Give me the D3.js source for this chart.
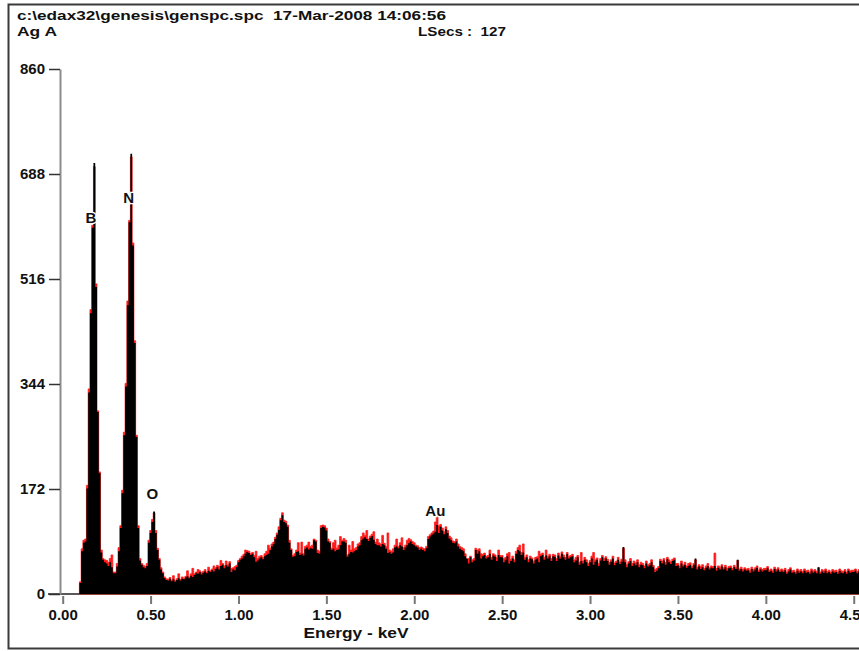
<!DOCTYPE html>
<html>
<head>
<meta charset="utf-8">
<script src="https://cdn.jsdelivr.net/npm/d3@7/dist/d3.min.js"></script>
<style>
  body { margin: 0; background: #fff; }
  svg { display: block; }
  text { font-family: "Liberation Sans", Arial, sans-serif; font-weight: bold; fill: #111; white-space: pre; }
</style>
</head>
<body>
<svg id="chart"></svg>
<script>
// header texts
var header_file = "c:\\edax32\\genesis\\genspc.spc  17-Mar-2008 14:06:56";
var header_label = "Ag A";
var header_lsecs = "LSecs :  127";

// axes
var y_ticks = [0, 172, 344, 516, 688, 860];
var x_ticks = [0, 0.5, 1, 1.5, 2, 2.5, 3, 3.5, 4, 4.5];
var x_title = "Energy - keV";

// peak labels
var peak_names = ["B", "N", "O", "Au"];
var peak_energy = [0.16, 0.375, 0.51, 2.12];
var peak_counts = [608, 640, 155, 128];

// spectrum, 10 eV channels, first channel centred on 0.10 keV
var channel_start = 0.10;
var channel_width = 0.01;

var black_counts = [
  18, 70, 84, 86, 173, 330, 460, 600, 706, 503,     // 0.10
  298, 198, 68, 56, 52, 50, 46, 52, 44, 34,         // 0.20
  34, 45, 70, 108, 165, 260, 340, 473, 609, 721,    // 0.30
  571, 411, 257, 108, 55, 48, 44, 42, 46, 84,       // 0.40
  100, 118, 135, 100, 72, 56, 40, 34, 26, 23,       // 0.50
  22, 25, 21, 24, 20, 23, 26, 22, 25, 24,           // 0.60
  27, 29, 26, 30, 28, 31, 34, 33, 36, 32,           // 0.70
  35, 37, 34, 38, 36, 39, 37, 41, 44, 40,           // 0.80
  46, 48, 42, 47, 45, 50, 36, 40, 39, 44,           // 0.90
  52, 56, 58, 62, 66, 69, 67, 64, 66, 60,           // 1.00
  53, 55, 58, 60, 57, 62, 64, 66, 72, 78,           // 1.10
  82, 90, 97, 105, 121, 129, 118, 116, 110, 84,     // 1.20
  72, 61, 62, 69, 70, 64, 66, 63, 74, 76,           // 1.30
  73, 75, 74, 88, 86, 67, 66, 108, 110, 109,        // 1.40
  104, 86, 84, 72, 74, 70, 72, 73, 80, 86,          // 1.50
  86, 84, 61, 66, 69, 68, 70, 72, 78, 80,           // 1.60
  88, 91, 93, 90, 87, 92, 95, 89, 82, 80,           // 1.70
  80, 78, 82, 80, 74, 67, 69, 66, 68, 76,           // 1.80
  78, 75, 80, 78, 72, 76, 80, 83, 86, 82,           // 1.90
  80, 78, 76, 72, 74, 72, 70, 75, 90, 94,           // 2.00
  97, 99, 102, 113, 100, 110, 104, 98, 106, 100,    // 2.10
  91, 88, 84, 83, 86, 78, 74, 72, 70, 62,           // 2.20
  58, 50, 60, 52, 55, 72, 66, 70, 58, 62,           // 2.30
  64, 58, 60, 66, 56, 63, 61, 54, 64, 60,           // 2.40
  60, 52, 56, 62, 50, 54, 58, 52, 66, 72,           // 2.50
  70, 64, 68, 56, 60, 52, 58, 57, 50, 56,           // 2.60
  58, 52, 62, 64, 56, 63, 58, 62, 54, 62,           // 2.70
  61, 54, 63, 58, 66, 60, 56, 65, 58, 60,           // 2.80
  62, 52, 55, 60, 48, 54, 50, 56, 52, 46,           // 2.90
  52, 58, 48, 53, 56, 46, 55, 60, 54, 58,           // 3.00
  54, 48, 53, 58, 47, 51, 56, 49, 53, 77,           // 3.10
  52, 44, 50, 54, 46, 50, 47, 52, 44, 48,           // 3.20
  47, 42, 50, 45, 47, 52, 44, 36, 38, 42,           // 3.30
  54, 50, 55, 48, 57, 52, 49, 54, 56, 46,           // 3.40
  47, 42, 50, 45, 48, 43, 46, 48, 42, 47,           // 3.50
  58, 40, 45, 41, 44, 39, 43, 46, 40, 43,           // 3.60
  42, 46, 38, 43, 40, 45, 40, 44, 38, 42,           // 3.70
  43, 39, 44, 41, 56, 38, 41, 37, 40, 38,           // 3.80
  39, 35, 41, 37, 40, 43, 36, 40, 37, 39,           // 3.90
  39, 42, 36, 38, 35, 41, 37, 40, 36, 38,           // 4.00
  36, 39, 33, 37, 40, 35, 36, 33, 38, 35,           // 4.10
  37, 34, 38, 35, 36, 33, 38, 35, 37, 34,           // 4.20
  44, 33, 37, 35, 38, 34, 36, 33, 37, 35,           // 4.30
  36, 33, 38, 35, 34, 37, 33, 38, 35, 36,           // 4.40
  36, 38, 34, 37, 35, 38, 34, 36, 38, 35            // 4.50
];

var red_counts = [
  20, 74, 88, 90, 178, 336, 466, 604, 700, 508,     // 0.10
  300, 200, 72, 58, 56, 55, 52, 58, 64, 36,         // 0.20
  36, 50, 76, 112, 170, 265, 345, 480, 612, 716,    // 0.30
  575, 415, 260, 112, 58, 50, 47, 45, 50, 88,       // 0.40
  104, 122, 133, 104, 75, 58, 43, 36, 28, 25,       // 0.50
  24, 27, 23, 30, 22, 25, 33, 24, 28, 26,           // 0.60
  29, 38, 28, 33, 42, 33, 36, 40, 38, 35,           // 0.70
  37, 40, 36, 44, 38, 41, 46, 43, 47, 45,           // 0.80
  55, 50, 46, 54, 48, 53, 42, 43, 45, 47,           // 0.90
  55, 58, 62, 65, 72, 71, 70, 66, 68, 63,           // 1.00
  70, 58, 62, 63, 60, 66, 70, 80, 75, 82,           // 1.10
  85, 93, 100, 110, 124, 133, 121, 119, 113, 88,    // 1.20
  74, 63, 66, 72, 84, 67, 85, 66, 78, 80,           // 1.30
  85, 78, 80, 90, 88, 72, 70, 112, 113, 112,        // 1.40
  108, 90, 86, 75, 84, 88, 75, 80, 94, 88,          // 1.50
  91, 88, 64, 80, 72, 86, 74, 76, 82, 84,           // 1.60
  94, 100, 96, 104, 90, 95, 98, 102, 85, 90,        // 1.70
  84, 82, 96, 83, 78, 100, 72, 70, 74, 80,          // 1.80
  90, 78, 84, 92, 76, 80, 88, 91, 89, 86,           // 1.90
  84, 80, 79, 76, 77, 75, 74, 78, 94, 97,           // 2.00
  100, 103, 118, 129, 112, 114, 108, 102, 110, 104, // 2.10
  95, 92, 87, 86, 90, 82, 78, 76, 74, 66,           // 2.20
  54, 58, 62, 56, 58, 75, 72, 74, 66, 65,           // 2.30
  67, 62, 63, 72, 60, 66, 64, 60, 72, 63,           // 2.40
  63, 58, 60, 66, 68, 57, 62, 56, 70, 76,           // 2.50
  80, 68, 82, 60, 64, 56, 62, 59, 54, 60,           // 2.60
  61, 70, 65, 67, 60, 72, 62, 65, 58, 65,           // 2.70
  64, 58, 67, 62, 69, 64, 60, 68, 62, 63,           // 2.80
  65, 56, 60, 63, 52, 68, 54, 60, 56, 50,           // 2.90
  55, 62, 68, 56, 59, 50, 58, 63, 58, 61,           // 3.00
  57, 52, 56, 62, 51, 54, 60, 53, 57, 75,           // 3.10
  56, 48, 53, 58, 50, 54, 51, 56, 48, 52,           // 3.20
  50, 46, 54, 48, 50, 56, 47, 40, 42, 45,           // 3.30
  57, 54, 58, 52, 60, 56, 53, 57, 59, 50,           // 3.40
  50, 46, 54, 48, 52, 46, 50, 51, 45, 50,           // 3.50
  56, 44, 48, 45, 48, 42, 46, 50, 43, 46,           // 3.60
  45, 67, 42, 46, 44, 48, 43, 47, 42, 45,           // 3.70
  46, 42, 47, 44, 55, 41, 44, 40, 43, 41,           // 3.80
  42, 39, 44, 40, 43, 46, 39, 43, 40, 42,           // 3.90
  42, 45, 39, 41, 38, 44, 40, 43, 39, 41,           // 4.00
  39, 42, 36, 40, 43, 38, 39, 36, 41, 38,           // 4.10
  40, 37, 41, 38, 39, 36, 41, 38, 40, 37,           // 4.20
  43, 36, 40, 38, 41, 37, 39, 36, 40, 38,           // 4.30
  39, 36, 41, 38, 37, 40, 36, 41, 38, 39,           // 4.40
  39, 41, 37, 40, 38, 41, 37, 39, 41, 38            // 4.50
];

var w = 859;
var h = 651;

var svg = d3.select("#chart")
  .attr("width", w)
  .attr("height", h);

var x = d3.scaleLinear().domain([0, 4.53]).range([62.7, 859]);
var y = d3.scaleLinear().domain([0, 860]).range([594, 69]);

// outer frame (right side is cut off in the original)
svg.append("path")
  .attr("d", "M" + (w + 5) + ",4.5H8.5V648.5H" + (w + 5))
  .attr("fill", "none")
  .attr("stroke", "#3a3a3a")
  .attr("stroke-width", 2);

// header
svg.append("text").attr("x", 17).attr("y", 20).attr("font-size", 13)
  .attr("textLength", 429).attr("lengthAdjust", "spacingAndGlyphs")
  .text(header_file);
svg.append("text").attr("x", 17).attr("y", 36).attr("font-size", 13)
  .attr("textLength", 40).attr("lengthAdjust", "spacingAndGlyphs")
  .text(header_label);
svg.append("text").attr("x", 418).attr("y", 36).attr("font-size", 13)
  .attr("textLength", 88).attr("lengthAdjust", "spacingAndGlyphs")
  .text(header_lsecs);

// baseline
svg.append("line")
  .attr("x1", 48).attr("x2", w)
  .attr("y1", y(0)).attr("y2", y(0))
  .attr("stroke", "#222").attr("stroke-width", 1.5);

// turn channel list into step points (left edge of each channel + closing edge)
function steps(counts) {
  var pts = counts.map(function(c, i) {
    return { e: channel_start + i * channel_width - channel_width / 2, c: c };
  });
  pts.push({ e: channel_start + counts.length * channel_width - channel_width / 2, c: counts[counts.length - 1] });
  return pts;
}

var area = d3.area()
  .curve(d3.curveStepAfter)
  .x(function(d) { return x(d.e); })
  .y0(y(0))
  .y1(function(d) { return y(d.c); });

var plot = svg.append("g");

plot.append("path")
  .datum(steps(red_counts))
  .attr("d", area)
  .attr("fill", "#ff1a1a")
  .attr("stroke", "#ff1a1a")
  .attr("stroke-width", 0.8);

plot.append("path")
  .datum(steps(black_counts))
  .attr("d", area)
  .attr("fill", "#000");

// y axis
var yAxis = svg.append("g")
  .attr("transform", "translate(60,0)")
  .call(d3.axisLeft(y).tickValues(y_ticks).tickSize(11).tickSizeOuter(0).tickPadding(4));
yAxis.select(".domain").attr("stroke", "#8c8c8c").attr("stroke-width", 2);
yAxis.selectAll(".tick line").attr("stroke", "#333").attr("stroke-width", 1.5);
yAxis.selectAll(".tick text")
  .attr("font-size", 15).attr("fill", "#111");
yAxis.attr("font-family", null);

// x axis
var xAxis = svg.append("g")
  .attr("transform", "translate(0,596)")
  .call(d3.axisBottom(x).tickValues(x_ticks).tickFormat(d3.format(".2f")).tickSize(8).tickSizeOuter(0).tickPadding(5));
xAxis.select(".domain").remove();
xAxis.selectAll(".tick line").attr("stroke", "#777").attr("stroke-width", 2);
xAxis.selectAll(".tick text")
  .attr("font-size", 15).attr("fill", "#111");
xAxis.attr("font-family", null);

svg.append("text")
  .attr("x", 356).attr("y", 638)
  .attr("text-anchor", "middle")
  .attr("font-size", 15)
  .attr("textLength", 105).attr("lengthAdjust", "spacingAndGlyphs")
  .text(x_title);

// peak labels
svg.selectAll(".peak")
  .data(peak_names)
  .enter().append("text")
  .attr("class", "peak")
  .attr("x", function(d, i) { return x(peak_energy[i]); })
  .attr("y", function(d, i) { return y(peak_counts[i]); })
  .attr("text-anchor", "middle")
  .attr("font-size", 15)
  .attr("fill", "#222")
  .attr("stroke", "#fff")
  .attr("stroke-width", 2.5)
  .attr("paint-order", "stroke")
  .text(function(d) { return d; });
</script>
</body>
</html>
